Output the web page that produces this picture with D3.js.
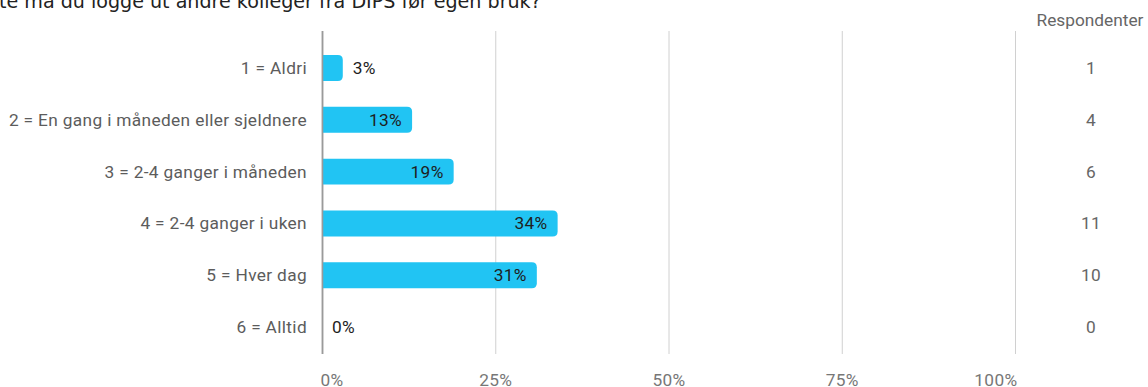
<!DOCTYPE html>
<html>
<head>
<meta charset="utf-8">
<script src="https://cdn.jsdelivr.net/npm/d3@7"></script>
<style>
  html, body { margin: 0; padding: 0; background: #fff; }
  svg { display: block; }
</style>
</head>
<body>
<svg id="chart" width="1148" height="387"></svg>
<script>
// Survey answers: share of respondents per frequency option
const categories = [
  "1 = Aldri",
  "2 = En gang i måneden eller sjeldnere",
  "3 = 2-4 ganger i måneden",
  "4 = 2-4 ganger i uken",
  "5 = Hver dag",
  "6 = Alltid"
];
const percentages = [3, 13, 19, 34, 31, 0];
const respondents = [1, 4, 6, 11, 10, 0];
const tickValues = [0, 25, 50, 75, 100];
const titleText = "te må du logge ut andre kolleger fra DIPS før egen bruk?";
const countHeader = "Respondenter";

const svg = d3.select("#chart");
const font = "Roboto, 'Noto Sans', sans-serif";
const fs = 17.3;
const ls = 0.35;

const x = d3.scaleLinear().domain([0, 100]).range([322, 1015]);
const y = d3.scaleBand().domain(categories).range([42, 353]).paddingInner(0.5).paddingOuter(0.25);

// Title (runs past the top edge)
svg.append("text")
  .attr("x", -1).attr("y", 7.5)
  .attr("font-family", "'DejaVu Sans', Verdana, sans-serif")
  .attr("font-size", 19.1)
  .attr("fill", "#222")
  .text(titleText);

// Vertical gridlines
svg.append("g").selectAll("line")
  .data(tickValues)
  .join("line")
  .attr("x1", d => x(d) + 0.5).attr("x2", d => x(d) + 0.5)
  .attr("y1", 31).attr("y2", 354)
  .attr("stroke", d => d === 0 ? "#9a9a9a" : "#d0d0d0")
  .attr("stroke-width", d => d === 0 ? 1.5 : 1);

// Bottom axis labels: first aligned left, last aligned right, rest centred
const axis = d3.axisBottom(x).tickValues(tickValues).tickFormat(d => d + "%").tickSize(0).tickPadding(0);
const axisG = svg.append("g").attr("transform", "translate(0,386)").call(axis);
axisG.select(".domain").remove();
axisG.selectAll("text")
  .attr("font-family", font).attr("font-size", fs).attr("fill", "#777")
  .attr("letter-spacing", ls)
  .attr("dy", 0).attr("y", 0)
  .attr("text-anchor", (d, i) => i === 0 ? "start" : i === tickValues.length - 1 ? "end" : "middle")
  .attr("dx", (d, i) => i === 0 ? -2 : i === tickValues.length - 1 ? 2 : 0);

// Rounded bar path: square on the left, rounded on the right
function barPath(x0, y0, w, h, r) {
  if (w <= 0) return "";
  r = Math.min(r, w, h / 2);
  return `M${x0},${y0}H${x0 + w - r}Q${x0 + w},${y0} ${x0 + w},${y0 + r}` +
         `V${y0 + h - r}Q${x0 + w},${y0 + h} ${x0 + w - r},${y0 + h}H${x0}Z`;
}

const rows = categories.map((c, i) => ({ c, p: percentages[i], n: respondents[i] }));

svg.append("g").selectAll("path")
  .data(rows)
  .join("path")
  .attr("d", d => barPath(x(0), y(d.c), x(d.p) - x(0), y.bandwidth(), 5))
  .attr("fill", "#21c4f3");

// Zero line drawn over the bars
svg.append("line")
  .attr("x1", x(0) + 0.5).attr("x2", x(0) + 0.5)
  .attr("y1", 31).attr("y2", 354)
  .attr("stroke", "#9a9a9a").attr("stroke-width", 1.5);

// Category labels
svg.append("g").selectAll("text")
  .data(rows)
  .join("text")
  .attr("x", 307)
  .attr("y", d => y(d.c) + y.bandwidth() / 2)
  .attr("dy", "0.35em")
  .attr("text-anchor", "end")
  .attr("letter-spacing", ls)
  .attr("font-family", font).attr("font-size", fs).attr("fill", "#5c5c5c")
  .text(d => d.c);

// Value labels: inside bars when wide enough, otherwise to the right
svg.append("g").selectAll("text")
  .data(rows)
  .join("text")
  .attr("x", d => d.p >= 8 ? x(d.p) - 10 : x(d.p) + 10)
  .attr("y", d => y(d.c) + y.bandwidth() / 2)
  .attr("dy", "0.35em")
  .attr("text-anchor", d => d.p >= 8 ? "end" : "start")
  .attr("letter-spacing", ls)
  .attr("font-family", font).attr("font-size", fs).attr("fill", "#1e1e1e")
  .text(d => d.p + "%");

// Respondent count column
svg.append("text")
  .attr("x", 1090).attr("y", 20)
  .attr("dy", "0.35em")
  .attr("text-anchor", "middle")
  .attr("font-family", font).attr("font-size", fs).attr("fill", "#666")
  .text(countHeader);

svg.append("g").selectAll("text")
  .data(rows)
  .join("text")
  .attr("x", 1091)
  .attr("y", d => y(d.c) + y.bandwidth() / 2)
  .attr("dy", "0.35em")
  .attr("text-anchor", "middle")
  .attr("letter-spacing", ls)
  .attr("font-family", font).attr("font-size", fs).attr("fill", "#666")
  .text(d => d.n);
</script>
</body>
</html>
